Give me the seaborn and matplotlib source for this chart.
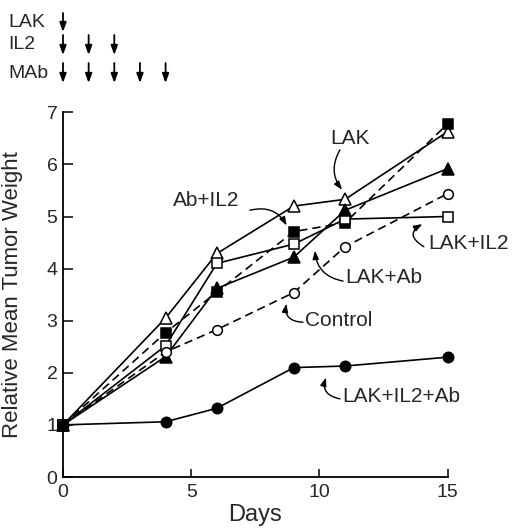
import matplotlib
matplotlib.use("Agg")
import matplotlib.pyplot as plt
import matplotlib.transforms as mtransforms
import numpy as np
import pandas as pd
import seaborn as sns

# Measurement days and relative mean tumor weight per treatment group
days = [0, 4, 6, 9, 11, 15]
lak = [1.0, 3.05, 4.29, 5.20, 5.33, 6.63]
ab_il2 = [1.0, 2.77, 3.55, 4.71, 4.88, 6.78]
lak_il2 = [1.0, 2.52, 4.10, 4.47, 4.95, 5.00]
lak_ab = [1.0, 2.31, 3.62, 4.22, 5.12, 5.92]
control = [1.0, 2.40, 2.83, 3.54, 4.42, 5.44]
lak_il2_ab = [1.0, 1.06, 1.32, 2.10, 2.13, 2.30]

# Treatment schedule (days on which each agent was given)
schedule_names = ["LAK", "IL2", "MAb"]
schedule_days = [[0], [0, 1, 2], [0, 1, 2, 3, 4]]

x_ticks = [0, 5, 10, 15]
y_ticks = [0, 1, 2, 3, 4, 5, 6, 7]

sns.set_style("ticks")
plt.rcParams["font.family"] = ["Liberation Sans", "DejaVu Sans"]

groups = {
    "LAK": lak,
    "Ab+IL2": ab_il2,
    "LAK+IL2": lak_il2,
    "LAK+Ab": lak_ab,
    "Control": control,
    "LAK+IL2+Ab": lak_il2_ab,
}
frames = [pd.DataFrame({"day": days, "weight": v, "group": k}) for k, v in groups.items()]
df = pd.concat(frames, ignore_index=True)

styles = {
    "LAK": dict(marker="^", mfc="white", ls="-", ms=8.5),
    "Ab+IL2": dict(marker="s", mfc="black", ls=(0, (5, 3)), ms=6.5),
    "LAK+IL2": dict(marker="s", mfc="white", ls="-", ms=6.5),
    "LAK+Ab": dict(marker="^", mfc="black", ls="-", ms=8.5),
    "Control": dict(marker="o", mfc="white", ls=(0, (5, 3)), ms=7),
    "LAK+IL2+Ab": dict(marker="o", mfc="black", ls="-", ms=7.5),
}

fig = plt.figure(figsize=(5.15, 5.29), dpi=100)
ax = fig.add_axes([63 / 515, 52 / 529, 384.7 / 515, 364.7 / 529])

for name, st in styles.items():
    sub = df[df["group"] == name]
    sns.lineplot(data=sub, x="day", y="weight", ax=ax, color="black",
                 linewidth=1.2, linestyle=st["ls"], marker=st["marker"],
                 markersize=st["ms"], markerfacecolor=st["mfc"],
                 markeredgecolor="black", markeredgewidth=1.1,
                 clip_on=False, zorder=3)

ax.set_xlim(0, 15)
ax.set_ylim(0, 7)
ax.set_xticks(x_ticks)
ax.set_yticks(y_ticks)
ax.tick_params(axis="both", direction="in", width=1.1, labelsize=14, color="black")
ax.tick_params(axis="y", length=7, pad=4)
ax.tick_params(axis="x", length=6, pad=5)
for side in ["top", "right"]:
    ax.spines[side].set_visible(False)
for side in ["left", "bottom"]:
    ax.spines[side].set_linewidth(1.3)
    ax.spines[side].set_color("black")
ax.set_xlabel("Days", fontsize=17, labelpad=2)
ax.set_ylabel("Relative Mean Tumor Weight", fontsize=16)
ax.yaxis.set_label_coords(-0.105, 0.5)

# Group labels with curled leaders pointing at their curves
labels = [
    # text, text left/centre-y, leader start, leader tip, curvature
    ("LAK", (10.41, 6.49), (10.80, 6.28), (10.95, 5.47), 0.35),
    ("Ab+IL2", (4.29, 5.30), (7.29, 5.12), (8.77, 4.78), -0.4),
    ("LAK+IL2", (14.23, 4.49), (14.07, 4.42), (14.11, 4.88), -0.9),
    ("LAK+Ab", (10.99, 3.82), (10.92, 3.76), (9.82, 4.40), -0.4),
    ("Control", (9.43, 3.01), (9.36, 2.97), (8.73, 3.38), -0.6),
    ("LAK+IL2+Ab", (10.88, 1.54), (10.80, 1.50), (10.29, 1.96), -0.6),
]
for text, pos, start, tip, rad in labels:
    ax.text(pos[0], pos[1], text, ha="left", va="center", fontsize=15,
            clip_on=False)
    ax.annotate("", xy=tip, xytext=start, annotation_clip=False,
                arrowprops=dict(arrowstyle="-|>,head_length=0.5,head_width=0.18",
                                color="black", lw=1.0,
                                connectionstyle=f"arc3,rad={rad}",
                                shrinkA=0, shrinkB=2))

# Dosing schedule arrows above the plot
trans = mtransforms.blended_transform_factory(ax.transData, fig.transFigure)
row_tops = [1 - 13 / 529, 1 - 35 / 529, 1 - 63 / 529]
row_bottoms = [1 - 32 / 529, 1 - 55 / 529, 1 - 83 / 529]
for name, ds, top, bot in zip(schedule_names, schedule_days, row_tops, row_bottoms):
    fig.text(8 / 515, (top + bot) / 2, name, fontsize=14, ha="left", va="center")
    for d in ds:
        ax.annotate("", xy=(d, bot), xytext=(d, top), xycoords=trans, textcoords=trans,
                    annotation_clip=False,
                    arrowprops=dict(arrowstyle="-|>,head_length=0.55,head_width=0.2",
                                    color="black", lw=1.3, shrinkA=0, shrinkB=0))

fig.savefig("out.png", dpi=100)
